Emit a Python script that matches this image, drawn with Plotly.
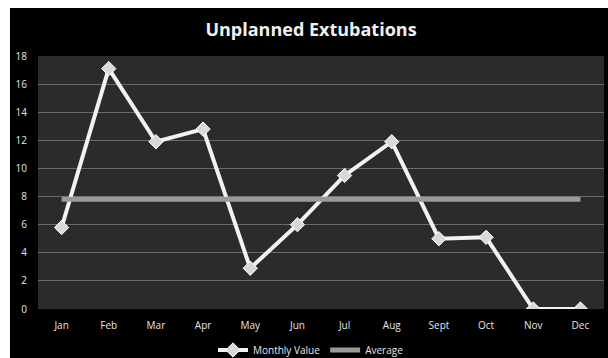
import plotly.graph_objects as go

# Monthly unplanned extubation counts
months = ["Jan", "Feb", "Mar", "Apr", "May", "Jun", "Jul", "Aug", "Sept", "Oct", "Nov", "Dec"]
monthly_value = [5.8, 17.1, 11.9, 12.8, 2.9, 6.0, 9.5, 11.9, 5.0, 5.1, 0, 0]
average_value = [7.8] * len(months)
y_ticks = [0, 2, 4, 6, 8, 10, 12, 14, 16, 18]

W, H = 608, 358
ML, MR, MT, MB = 38, 4, 56, 49
pw, ph = W - ML - MR, H - MT - MB

def px_x(p):
    return (p - ML) / pw

def px_y(p):
    return (H - MB - p) / ph

fig = go.Figure()

fig.add_trace(go.Scatter(
    x=months, y=monthly_value, name="Monthly Value",
    mode="lines+markers",
    line=dict(color="#f2f2f2", width=4),
    marker=dict(symbol="diamond", size=11, color="#d9d9d9",
                line=dict(color="#ffffff", width=1)),
))
fig.add_trace(go.Scatter(
    x=months, y=average_value, name="Average",
    mode="lines",
    line=dict(color="#9a9a9a", width=5),
))

# thin white frame strips along the top and left edges
white_strips = [
    (px_x(-2), px_x(10), 0, 1),
    (px_x(-2), px_x(10), px_y(H + 2), 0),
    (px_x(-2), px_x(10), 1, px_y(-2)),
    (px_x(10), px_x(W + 2), px_y(8), px_y(-2)),
]
for x0, x1, y0, y1 in white_strips:
    fig.add_shape(type="rect", xref="paper", yref="paper", layer="below",
                  x0=x0, x1=x1, y0=y0, y1=y1,
                  fillcolor="white", line=dict(width=0))

fig.update_layout(
    width=W, height=H,
    margin=dict(l=ML, r=MR, t=MT, b=MB, autoexpand=False),
    paper_bgcolor="black",
    plot_bgcolor="#2b2b2b",
    font=dict(family="Open Sans, Liberation Sans, sans-serif", color="#e6e6e6", size=10),
    title=dict(text="<b>Unplanned Extubations</b>", x=311 / W, xref="container",
               xanchor="center", y=1 - 30 / H, yref="container", yanchor="middle",
               font=dict(size=18, color="#f0f0f0")),
    showlegend=True,
    legend=dict(orientation="h", x=311 / W, xref="container", xanchor="center",
                y=1 - 350 / H, yref="container", yanchor="middle",
                font=dict(size=10, color="#e6e6e6"),
                bgcolor="rgba(0,0,0,0)", itemwidth=30, tracegroupgap=0),
    xaxis=dict(type="category", range=[-0.5, 11.5], showgrid=False,
               zeroline=False, showline=False, ticks="", ticklabelstandoff=9,
               tickfont=dict(size=10, color="#e6e6e6"), fixedrange=True),
    yaxis=dict(range=[0, 18], tickvals=y_ticks, showgrid=True,
               gridcolor="#6a6a6a", gridwidth=1, zeroline=False,
               showline=False, ticks="", ticklabelstandoff=10,
               tickfont=dict(size=10, color="#e6e6e6"), fixedrange=True),
)

fig.write_html("out.html")
